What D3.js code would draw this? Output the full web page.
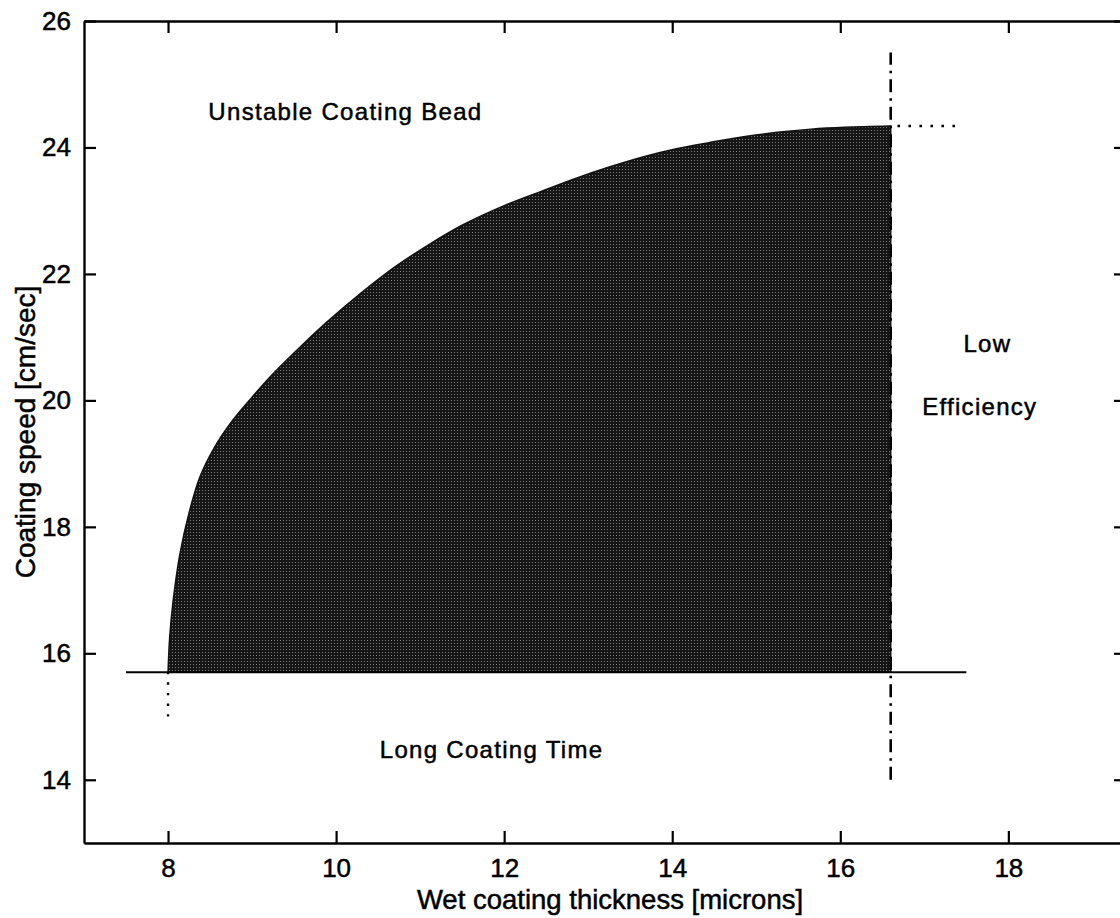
<!DOCTYPE html>
<html lang="en">
<head>
<meta charset="UTF-8">
<script src="https://d3js.org/d3.v7.min.js"></script>
<title>Coating window</title>
<style>
    body { margin: 0; background: #fff; }
    svg text { font-family: "Liberation Sans", Arial, Helvetica, sans-serif; fill: #000; stroke: #000; stroke-width: 0.5px; }
</style>
</head>
<body>
<script>
    // Axis setup
    const xDomain = [7, 19.4];
    const yDomain = [13, 26];
    const xTicks = [8, 10, 12, 14, 16, 18];
    const yTicks = [14, 16, 18, 20, 22, 24, 26];

    // Upper boundary of the coating window
    const boundaryX = [8.00, 8.02, 8.06, 8.14, 8.25, 8.38, 8.55, 8.75, 9.00, 9.25, 9.60, 9.90,
                       10.30, 10.70, 11.10, 11.50, 12.00, 12.45, 12.85, 13.25, 13.65, 14.05,
                       14.45, 14.85, 15.25, 15.65, 16.05, 16.60];
    const boundaryY = [15.70, 16.26, 16.82, 17.56, 18.22, 18.79, 19.25, 19.65, 20.05, 20.42, 20.88, 21.25,
                       21.70, 22.11, 22.46, 22.77, 23.08, 23.31, 23.51, 23.69, 23.85, 23.98,
                       24.08, 24.17, 24.24, 24.29, 24.32, 24.34];

    // Limit lines
    const minSpeed = 15.7;
    const minSpeedX = [7.5, 17.5];
    const maxThickness = 16.6;
    const maxThicknessY = [14.0, 25.5];
    const minThickness = 8.0;
    const minThicknessY = [15.0, 15.7];
    const maxSpeed = 24.34;
    const maxSpeedX = [16.68, 17.4];

    // Region labels
    const labels = ["Unstable Coating Bead", "Long Coating Time", "Low", "Efficiency"];
    const labelX = [8.48, 10.52, 17.75, 17.66];
    const labelY = [24.43, 14.34, 20.77, 19.77];
    const labelAnchor = ["start", "start", "middle", "middle"];

    const W = 1120, H = 918;
    const mLeft = 84, mRight = 1126, mTop = 21, mBottom = 843;

    const svg = d3.select("body").append("svg")
        .attr("width", W)
        .attr("height", H);

    const x = d3.scaleLinear().domain(xDomain).range([mLeft, mRight]);
    const y = d3.scaleLinear().domain(yDomain).range([mBottom, mTop]);

    // stipple fill
    const defs = svg.append("defs");
    const pat = defs.append("pattern")
        .attr("id", "stipple")
        .attr("width", 3).attr("height", 3)
        .attr("patternUnits", "userSpaceOnUse");
    pat.append("rect").attr("width", 3).attr("height", 3).attr("fill", "#161616");
    pat.append("rect").attr("x", 1).attr("y", 1).attr("width", 1).attr("height", 1).attr("fill", "#7a7a7a");

    const pts = boundaryX.map((d, i) => [d, boundaryY[i]]);

    // shaded operating window under the boundary
    const area = d3.area()
        .x(d => x(d[0]))
        .y0(y(minSpeed))
        .y1(d => y(d[1]))
        .curve(d3.curveCatmullRom.alpha(0.5));

    svg.append("path")
        .datum(pts)
        .attr("d", area)
        .attr("fill", "url(#stipple)")
        .attr("stroke", "#111")
        .attr("stroke-width", 1.5);

    const seg = d3.line().x(d => x(d[0])).y(d => y(d[1]));

    // min speed (solid)
    svg.append("path")
        .datum(minSpeedX.map(v => [v, minSpeed]))
        .attr("d", seg)
        .attr("stroke", "#000").attr("stroke-width", 2).attr("fill", "none");

    // max thickness (dash-dot)
    svg.append("path")
        .datum(maxThicknessY.map(v => [maxThickness, v]))
        .attr("d", seg)
        .attr("stroke", "#000").attr("stroke-width", 2.6).attr("fill", "none")
        .attr("stroke-dasharray", "13,6,2.5,6");

    // min thickness (dotted)
    svg.append("path")
        .datum(minThicknessY.map(v => [minThickness, v]))
        .attr("d", seg)
        .attr("stroke", "#000").attr("stroke-width", 2.4).attr("fill", "none")
        .attr("stroke-dasharray", "2.4,8.2");

    // max speed (dotted)
    svg.append("path")
        .datum(maxSpeedX.map(v => [v, maxSpeed]))
        .attr("d", seg)
        .attr("stroke", "#000").attr("stroke-width", 2.6).attr("fill", "none")
        .attr("stroke-dasharray", "2.6,8.4");

    // axes (ticks inward, box style)
    const tickLen = 12;
    const gx = svg.append("g")
        .attr("transform", "translate(0," + mBottom + ")")
        .call(d3.axisBottom(x).tickValues(xTicks).tickSize(-tickLen).tickPadding(16).tickSizeOuter(0));
    const gxTop = svg.append("g")
        .attr("transform", "translate(0," + mTop + ")")
        .call(d3.axisTop(x).tickValues(xTicks).tickSize(-tickLen).tickFormat("").tickSizeOuter(0));
    const gy = svg.append("g")
        .attr("transform", "translate(" + mLeft + ",0)")
        .call(d3.axisLeft(y).tickValues(yTicks).tickSize(-tickLen).tickPadding(13).tickSizeOuter(0));
    const gyRight = svg.append("g")
        .attr("transform", "translate(" + mRight + ",0)")
        .call(d3.axisRight(y).tickValues(yTicks).tickSize(-tickLen).tickFormat("").tickSizeOuter(0));

    [gx, gxTop, gy, gyRight].forEach(g => {
        g.select(".domain").attr("stroke", "#000").attr("stroke-width", 2.4);
        g.selectAll(".tick line").attr("stroke", "#000").attr("stroke-width", 2.2);
        g.selectAll(".tick text")
            .attr("font-size", 26)
            .attr("font-family", "Liberation Sans, Arial, sans-serif")
            .attr("fill", "#000");
    });

    // axis titles
    svg.append("text")
        .attr("x", 610)
        .attr("y", 909)
        .attr("text-anchor", "middle")
        .attr("font-size", 27.5)
        .text("Wet coating thickness [microns]");

    svg.append("text")
        .attr("transform", "translate(35," + (mTop + mBottom) / 2 + ") rotate(-90)")
        .attr("text-anchor", "middle")
        .attr("font-size", 28)
        .text("Coating speed [cm/sec]");

    // region labels
    svg.selectAll(".region-label")
        .data(labels)
        .join("text")
        .attr("class", "region-label")
        .attr("x", (d, i) => x(labelX[i]))
        .attr("y", (d, i) => y(labelY[i]))
        .attr("text-anchor", (d, i) => labelAnchor[i])
        .attr("font-size", 24)
        .attr("letter-spacing", 1.3)
        .text(d => d);
</script>
</body>
</html>
